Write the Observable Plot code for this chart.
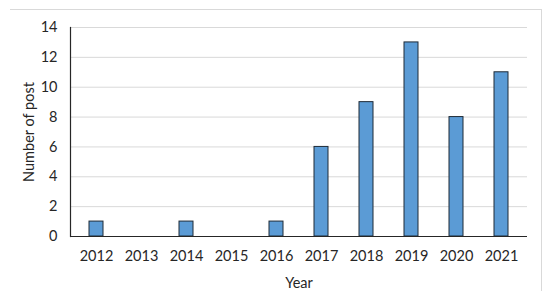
<!DOCTYPE html>
<html>
<head>
<meta charset="utf-8">
<script src="https://cdn.jsdelivr.net/npm/d3@7"></script>
<script src="https://cdn.jsdelivr.net/npm/@observablehq/plot@0.6"></script>
<style>
  html, body { margin: 0; padding: 0; background: #fff; }
  #wrap { position: relative; width: 550px; height: 295px; }
  #frame { position: absolute; left: 10px; top: 9px; width: 532px; height: 282px;
           border-top: 1px solid #d9d9d9; border-right: 1px solid #d9d9d9; box-sizing: border-box; }
  #chart { position: absolute; left: 0; top: 0; }
</style>
</head>
<body>
<div id="wrap"><div id="frame"></div><div id="chart"></div></div>
<script>
const years = ["2012","2013","2014","2015","2016","2017","2018","2019","2020","2021"];
const posts = [1, 0, 1, 0, 1, 6, 9, 13, 8, 11];
const yTicks = [0, 2, 4, 6, 8, 10, 12, 14];

const data = years.map((y, i) => ({year: y, value: posts[i]}));

const chart = Plot.plot({
  width: 550,
  height: 295,
  marginLeft: 70,
  marginRight: 23,
  marginTop: 27,
  marginBottom: 59,
  style: {fontFamily: "Lato, 'Open Sans', sans-serif", fontSize: "14.5px", color: "#262626", background: "transparent"},
  x: {domain: years, paddingInner: 0.69, paddingOuter: 0.35, label: null},
  y: {domain: [0, 14], ticks: yTicks, label: null},
  marks: [
    Plot.gridY(yTicks, {stroke: "#d9d9d9", strokeOpacity: 1}),
    Plot.barY(data, {x: "year", y: "value", fill: "#5b9bd5", stroke: "#1f2a36", strokeWidth: 1}),
    Plot.ruleY([0], {stroke: "#262626", strokeWidth: 1.2}),
    Plot.frame({anchor: "left", stroke: "#262626", strokeWidth: 1.2}),
    Plot.axisY(yTicks, {tickSize: 0, tickPadding: 13, fontSize: 14.5, label: null}),
    Plot.axisX({tickSize: 0, tickPadding: 14, fontSize: 14.5, label: null}),
    Plot.axisX({tickSize: 0, ticks: [], label: "Year", labelAnchor: "center", labelArrow: "none", labelOffset: 51, fontSize: 14.5}),
    Plot.axisY({tickSize: 0, ticks: [], label: "Number of post", labelAnchor: "center", labelArrow: "none", labelOffset: 47, fontSize: 14.5})
  ]
});
document.getElementById("chart").appendChild(chart);
</script>
</body>
</html>
